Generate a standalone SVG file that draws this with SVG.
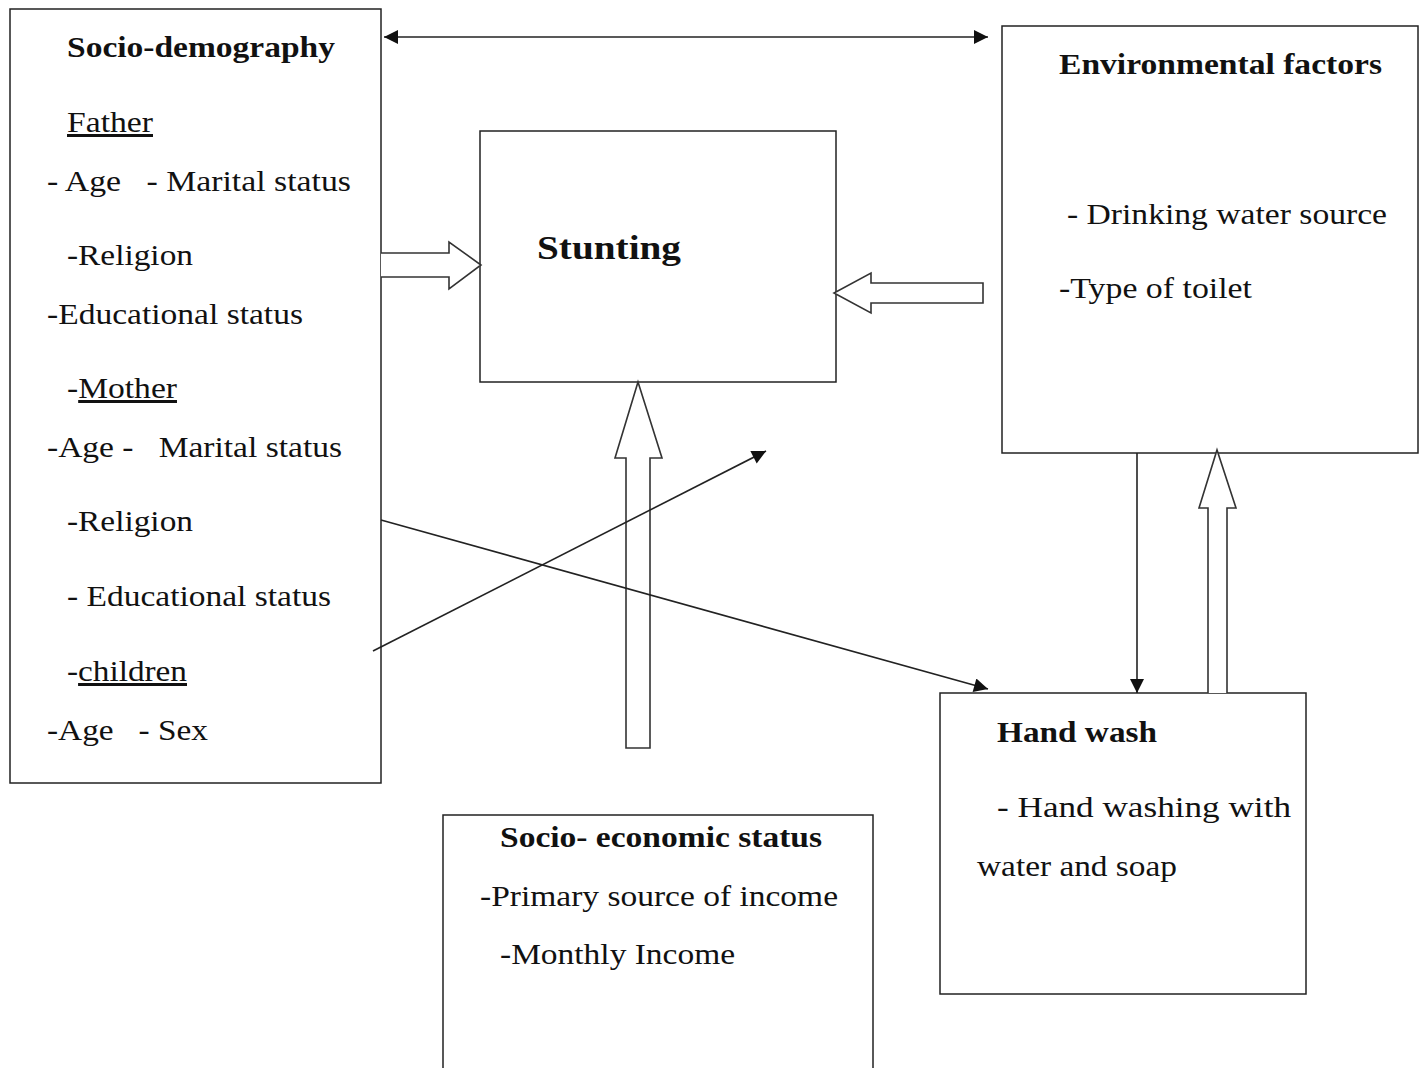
<svg xmlns="http://www.w3.org/2000/svg" width="1424" height="1068" viewBox="0 0 1424 1068">
<style>
.box{fill:#fff;stroke:#222;stroke-width:1.5}
.t{font-family:"Liberation Serif","Times New Roman",serif;font-size:30px;fill:#111}
.b{font-weight:bold}
.u{text-decoration:underline}
.ln{stroke:#222;stroke-width:1.6;fill:none}
.blk{fill:#fff;stroke:#333;stroke-width:1.6;stroke-linejoin:miter}
</style>
<defs>
<marker id="ah" viewBox="0 0 10 10" refX="10" refY="5" markerWidth="16" markerHeight="14" markerUnits="userSpaceOnUse" orient="auto-start-reverse"><path d="M0,0 L10,5 L0,10 z" fill="#111"/></marker>
</defs>
<rect width="1424" height="1068" fill="#fff"/>
<g id="socio-demography">
<rect class="box" x="10" y="9" width="371" height="774"/>
<text class="t b" x="67" y="57" textLength="268" lengthAdjust="spacingAndGlyphs">Socio-demography</text>
<text class="t" x="67" y="132" textLength="86" lengthAdjust="spacingAndGlyphs"><tspan class="u">Father</tspan></text>
<text class="t" x="47" y="191" xml:space="preserve" textLength="304" lengthAdjust="spacingAndGlyphs">- Age   - Marital status</text>
<text class="t" x="67" y="265" textLength="126" lengthAdjust="spacingAndGlyphs">-Religion</text>
<text class="t" x="47" y="324" textLength="256" lengthAdjust="spacingAndGlyphs">-Educational status</text>
<text class="t" x="67" y="398" textLength="110" lengthAdjust="spacingAndGlyphs">-<tspan class="u">Mother</tspan></text>
<text class="t" x="47" y="457" xml:space="preserve" textLength="295" lengthAdjust="spacingAndGlyphs">-Age -   Marital status</text>
<text class="t" x="67" y="531" textLength="126" lengthAdjust="spacingAndGlyphs">-Religion</text>
<text class="t" x="67" y="606" textLength="264" lengthAdjust="spacingAndGlyphs">- Educational status</text>
<text class="t" x="67" y="681" textLength="120" lengthAdjust="spacingAndGlyphs">-<tspan class="u">children</tspan></text>
<text class="t" x="47" y="740" xml:space="preserve" textLength="161" lengthAdjust="spacingAndGlyphs">-Age   - Sex</text>
</g>
<g id="stunting">
<rect class="box" x="480" y="131" width="356" height="251"/>
<text class="t b" x="537" y="259" style="font-size:34px" textLength="144" lengthAdjust="spacingAndGlyphs">Stunting</text>
</g>
<g id="environmental-factors">
<rect class="box" x="1002" y="26" width="416" height="427"/>
<text class="t b" x="1059" y="74" textLength="323" lengthAdjust="spacingAndGlyphs">Environmental factors</text>
<text class="t" x="1067" y="224" textLength="320" lengthAdjust="spacingAndGlyphs">- Drinking water source</text>
<text class="t" x="1059" y="298" textLength="193" lengthAdjust="spacingAndGlyphs">-Type of toilet</text>
</g>
<g id="hand-wash">
<rect class="box" x="940" y="693" width="366" height="301"/>
<text class="t b" x="997" y="742" textLength="160" lengthAdjust="spacingAndGlyphs">Hand wash</text>
<text class="t" x="997" y="817" textLength="294" lengthAdjust="spacingAndGlyphs">- Hand  washing  with</text>
<text class="t" x="977" y="876" textLength="200" lengthAdjust="spacingAndGlyphs">water and soap</text>
</g>
<g id="socio-economic-status">
<rect class="box" x="443" y="815" width="430" height="260"/>
<text class="t b" x="500" y="847" textLength="322" lengthAdjust="spacingAndGlyphs">Socio- economic status</text>
<text class="t" x="480" y="906" textLength="358" lengthAdjust="spacingAndGlyphs">-Primary source of income</text>
<text class="t" x="500" y="964" textLength="235" lengthAdjust="spacingAndGlyphs">-Monthly Income</text>
</g>
<g id="connectors">
<line class="ln" x1="384" y1="37" x2="988" y2="37" marker-start="url(#ah)" marker-end="url(#ah)"/>
<path class="blk" d="M381,253 L449,253 L449,242 L481,265 L449,289 L449,277 L381,277"/>
<path class="blk" d="M983,283 L871,283 L871,273 L834,293 L871,313 L871,303 L983,303 Z"/>
<path class="blk" d="M626,748 L626,458 L615,458 L638,382 L662,458 L650,458 L650,748 Z"/>
<path class="blk" d="M1208,693 L1208,508 L1199,508 L1217,450 L1236,508 L1227,508 L1227,693"/>
<line class="ln" x1="1137" y1="453" x2="1137" y2="693" marker-end="url(#ah)"/>
<line class="ln" x1="381" y1="520" x2="988" y2="689" marker-end="url(#ah)"/>
<line class="ln" x1="373" y1="651" x2="766" y2="451" marker-end="url(#ah)"/>
</g>
</svg>
